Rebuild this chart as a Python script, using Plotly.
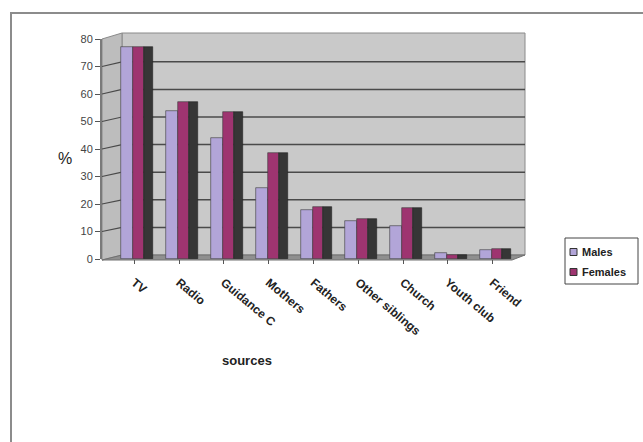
import plotly.graph_objects as go

categories = ["TV", "Radio", "Guidance C", "Mothers", "Fathers", "Other siblings",
              "Church", "Youth club", "Friend"]
males = [77, 54, 44, 26, 18, 14, 12, 2.3, 3.3]
females = [77, 57, 53.5, 38.5, 19, 14.5, 18.5, 1.5, 3.8]
y_ticks = [0, 10, 20, 30, 40, 50, 60, 70, 80]
series_names = ["Males", "Females"]
series_colors = ["#b2a5d8", "#9e3470"]

W, H = 643, 442
PL, PR, PT, PB = 102, 515, 39, 259  # plot area in pixels
FONT = "Liberation Sans, Arial, sans-serif"


def px(xp):
    return (xp - PL) / (PR - PL)


def py(yp):
    return (PB - yp) / (PB - PT)


x_idx = list(range(len(categories)))

fig = go.Figure()
fig.add_trace(go.Bar(
    x=x_idx, y=males, name=series_names[0], width=0.27, offset=-0.29,
    marker=dict(color=series_colors[0], line=dict(color="#3a3a3a", width=0.6)),
))
fig.add_trace(go.Bar(
    x=x_idx, y=females, name=series_names[1], width=0.24, offset=-0.02,
    marker=dict(color=series_colors[1], line=dict(color="#3a3a3a", width=0.6)),
))
# dark side face of the 3-D female column
fig.add_trace(go.Bar(
    x=x_idx, y=females, name="side", width=0.2, offset=0.22, showlegend=False,
    hoverinfo="skip",
    marker=dict(color="#363636", line=dict(color="#222222", width=0.6)),
))

shapes = []
# outer frame
shapes.append(dict(type="rect", xref="paper", yref="paper",
                   x0=px(11), x1=px(700), y0=py(13), y1=py(500),
                   line=dict(color="#8c8c8c", width=2), fillcolor="rgba(0,0,0,0)",
                   layer="below"))
# back wall
shapes.append(dict(type="rect", xref="paper", yref="paper",
                   x0=px(122), x1=px(525), y0=py(255), y1=py(33),
                   line=dict(color="#8a8a8a", width=1), fillcolor="#c9c9c9",
                   layer="below"))
# left side wall
shapes.append(dict(type="path", xref="paper", yref="paper",
                   path=f"M {px(102)},{py(39)} L {px(122)},{py(33)} L {px(122)},{py(255)} L {px(102)},{py(260)} Z",
                   line=dict(color="#8a8a8a", width=1), fillcolor="#bdbdbd",
                   layer="below"))
# floor
shapes.append(dict(type="path", xref="paper", yref="paper",
                   path=f"M {px(102)},{py(260)} L {px(122)},{py(255)} L {px(525)},{py(255)} L {px(512)},{py(260)} Z",
                   line=dict(color="#707070", width=1), fillcolor="#8f8f8f",
                   layer="below"))
# gridlines on back wall and side wall
for v in y_ticks[1:-1]:
    yb = 255 - v * 2.76
    yf = PB - v * 2.75
    shapes.append(dict(type="line", xref="paper", yref="paper",
                       x0=px(122), x1=px(525), y0=py(yb), y1=py(yb),
                       line=dict(color="#4a4a4a", width=1.5), layer="below"))
    shapes.append(dict(type="line", xref="paper", yref="paper",
                       x0=px(102), x1=px(122), y0=py(yf), y1=py(yb),
                       line=dict(color="#4a4a4a", width=1.2), layer="below"))

annotations = [
    dict(text="%", xref="paper", yref="paper", x=px(65), y=py(158),
         xanchor="center", yanchor="middle",
         showarrow=False, font=dict(size=16, color="#222222", family=FONT)),
    dict(text="sources", xref="paper", yref="paper", x=px(247), y=py(360),
         xanchor="center", yanchor="middle",
         showarrow=False, font=dict(size=13, color="#222222", weight=700, family=FONT)),
]

# compact legend box (drawn by hand to match the narrow original)
shapes.append(dict(type="rect", xref="paper", yref="paper",
                   x0=px(565), x1=px(638), y0=py(238), y1=py(284),
                   line=dict(color="#444444", width=1), fillcolor="white"))
for i, (name, col) in enumerate(zip(series_names, series_colors)):
    yc = 252 + 20 * i
    shapes.append(dict(type="rect", xref="paper", yref="paper",
                       x0=px(570), x1=px(577), y0=py(yc - 3.5), y1=py(yc + 3.5),
                       line=dict(color="#333333", width=1), fillcolor=col))
    annotations.append(dict(text=name, xref="paper", yref="paper",
                            x=px(580), y=py(yc), xanchor="left", yanchor="middle",
                            showarrow=False,
                            font=dict(size=11, color="#222222", weight=700, family=FONT)))

fig.update_layout(
    width=W, height=H,
    margin=dict(l=PL, r=W - PR, t=PT, b=H - PB, autoexpand=False),
    paper_bgcolor="white", plot_bgcolor="rgba(0,0,0,0)",
    barmode="overlay", bargap=0,
    font=dict(family=FONT, color="#222222"),
    shapes=shapes, annotations=annotations,
    showlegend=False,
)
fig.update_xaxes(
    range=[-0.723, 8.5], tickmode="array", tickvals=x_idx, ticktext=categories,
    tickangle=40, tickfont=dict(size=12, weight=700, color="#222222"),
    ticklabelstandoff=7,
    ticks="outside", ticklen=4, tickcolor="#555555", tickson="boundaries",
    showgrid=False, showline=False, zeroline=False, fixedrange=True,
)
fig.update_yaxes(
    range=[0, 80], tickvals=y_ticks, tickfont=dict(size=11, color="#444444"),
    ticks="outside", ticklen=5, tickcolor="#555555",
    showline=True, linecolor="#7a7a7a", linewidth=2,
    showgrid=False, zeroline=False, fixedrange=True,
)

fig.write_html("out.html")
